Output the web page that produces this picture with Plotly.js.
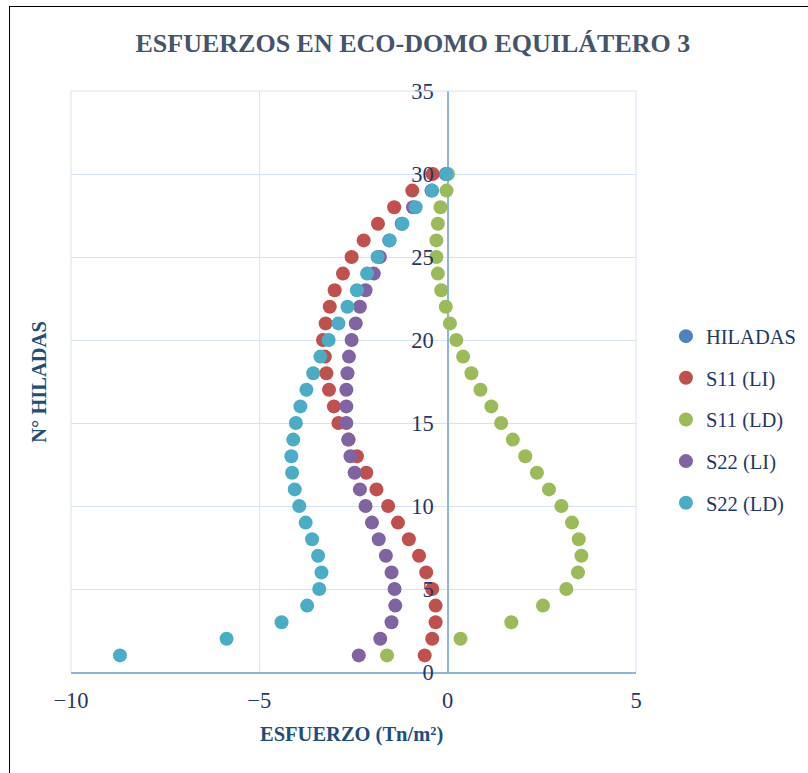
<!DOCTYPE html>
<html>
<head>
<meta charset="utf-8">
<script src="https://cdn.plot.ly/plotly-3.0.1.min.js"></script>
<style>
  html, body { margin: 0; padding: 0; background: #fff; }
  #chart { width: 808px; height: 773px; position: absolute; left: 0; top: 0; }
  #frame { position: absolute; left: 9px; top: 6px; width: 820px; height: 800px;
           border-left: 1.5px solid #000; border-top: 1.5px solid #000; pointer-events: none; }
</style>
</head>
<body>
<div id="chart"></div>
<div id="frame"></div>
<script>
const hiladas = [1,2,3,4,5,6,7,8,9,10,11,12,13,14,15,16,17,18,19,20,21,22,23,24,25,26,27,28,29,30];
const seriesNames = ["HILADAS", "S11 (LI)", "S11 (LD)", "S22 (LI)", "S22 (LD)"];
const hiladasX = [null,null,null,null,null,null,null,null,null,null,null,null,null,null,null,null,null,null,null,null,null,null,null,null,null,null,null,null,null,null];
const s11LI = [-0.61,-0.41,-0.32,-0.32,-0.41,-0.57,-0.76,-1.03,-1.32,-1.58,-1.89,-2.16,-2.41,-2.63,-2.90,-3.02,-3.15,-3.22,-3.26,-3.31,-3.24,-3.13,-3.00,-2.78,-2.55,-2.23,-1.85,-1.42,-0.94,-0.40];
const s11LD = [-1.61,0.34,1.69,2.53,3.15,3.46,3.55,3.48,3.30,3.02,2.69,2.37,2.06,1.73,1.42,1.16,0.87,0.63,0.41,0.23,0.06,-0.05,-0.17,-0.26,-0.30,-0.30,-0.26,-0.19,-0.03,0.01];
const s22LI = [-2.36,-1.79,-1.49,-1.39,-1.41,-1.49,-1.64,-1.83,-2.01,-2.18,-2.33,-2.47,-2.58,-2.64,-2.69,-2.69,-2.69,-2.66,-2.62,-2.55,-2.44,-2.33,-2.18,-1.96,-1.80,-1.55,-1.22,-0.92,-0.43,-0.05];
const s22LD = [-8.70,-5.87,-4.41,-3.73,-3.41,-3.35,-3.44,-3.60,-3.77,-3.94,-4.06,-4.13,-4.15,-4.10,-4.03,-3.91,-3.75,-3.57,-3.38,-3.16,-2.90,-2.66,-2.41,-2.14,-1.86,-1.54,-1.20,-0.85,-0.41,-0.03];
const colors = ["#4F81BD", "#C0504D", "#9BBB59", "#8064A2", "#4BACC6"];
const xTickVals = [-10, -5, 0, 5];
const yTickVals = [0, 5, 10, 15, 20, 25, 30, 35];

const xs = [hiladasX, s11LI, s11LD, s22LI, s22LD];
const traces = xs.map((x, i) => ({
  type: "scatter",
  mode: "markers",
  name: seriesNames[i],
  legendgroup: "g" + i,
  x: x,
  y: hiladas,
  marker: { color: colors[i], size: 14, line: { width: 0 } },
  hoverinfo: "x+y"
}));

const serif = "Liberation Serif, Times New Roman, serif";
const tickFont = { family: serif, size: 22.5, color: "#1F3864" };
const layout = {
  width: 808, height: 773,
  margin: { l: 71, r: 172, t: 91, b: 101, autoexpand: false },
  paper_bgcolor: "#ffffff", plot_bgcolor: "#ffffff",
  showlegend: true,
  title: { text: "<b>ESFUERZOS EN ECO-DOMO EQUILÁTERO 3</b>",
           font: { family: serif, size: 26, color: "#44546A" },
           x: 0.511, xanchor: "center", xref: "container", y: 0.944, yanchor: "middle", yref: "container" },
  xaxis: {
    range: [-10, 5], tickvals: xTickVals, showgrid: true, gridcolor: "#D6E1F2", gridwidth: 1,
    zeroline: true, zerolinecolor: "#8DB4E2", zerolinewidth: 2,
    showline: true, linecolor: "#8DB4E2", linewidth: 2, mirror: false,
    ticks: "", tickfont: tickFont, ticklabelstandoff: 7, fixedrange: true
  },
  yaxis: {
    range: [0, 35], tickvals: yTickVals, showgrid: true, gridcolor: "#D6E1F2", gridwidth: 1,
    zeroline: false, showline: false,
    anchor: "free", position: 2/3, side: "left",
    ticks: "", tickfont: tickFont, ticklabelstandoff: 14, fixedrange: true
  },
  shapes: [
    { type: "line", xref: "paper", yref: "paper", x0: 0, x1: 1, y0: 1, y1: 1, line: { color: "#D6E1F2", width: 1 } },
    { type: "line", xref: "paper", yref: "paper", x0: 1, x1: 1, y0: 0, y1: 1, line: { color: "#D6E1F2", width: 1 } },
    { type: "line", xref: "paper", yref: "paper", x0: 0, x1: 0, y0: 0, y1: 1, line: { color: "#D6E1F2", width: 1 } }
  ],
  legend: {
    x: 1.053, xanchor: "left", y: 0.434, yanchor: "middle",
    font: { family: serif, size: 20.5, color: "#1F3864" },
    traceorder: "grouped", tracegroupgap: 12, itemwidth: 30, bgcolor: "rgba(0,0,0,0)"
  },
  annotations: [
    { text: "<b>ESFUERZO (Tn/m²)</b>", xref: "paper", yref: "paper", x: 0.497, y: -0.108,
      xanchor: "center", yanchor: "middle", showarrow: false,
      font: { family: serif, size: 20.5, color: "#1F4E79" } },
    { text: "<b>N° HILADAS</b>", xref: "paper", yref: "paper", x: -0.058, y: 0.5,
      xanchor: "center", yanchor: "middle", showarrow: false, textangle: -90,
      font: { family: serif, size: 20.5, color: "#1F4E79" } }
  ]
};

Plotly.newPlot("chart", traces, layout, { displayModeBar: false, staticPlot: true });
</script>
</body>
</html>
